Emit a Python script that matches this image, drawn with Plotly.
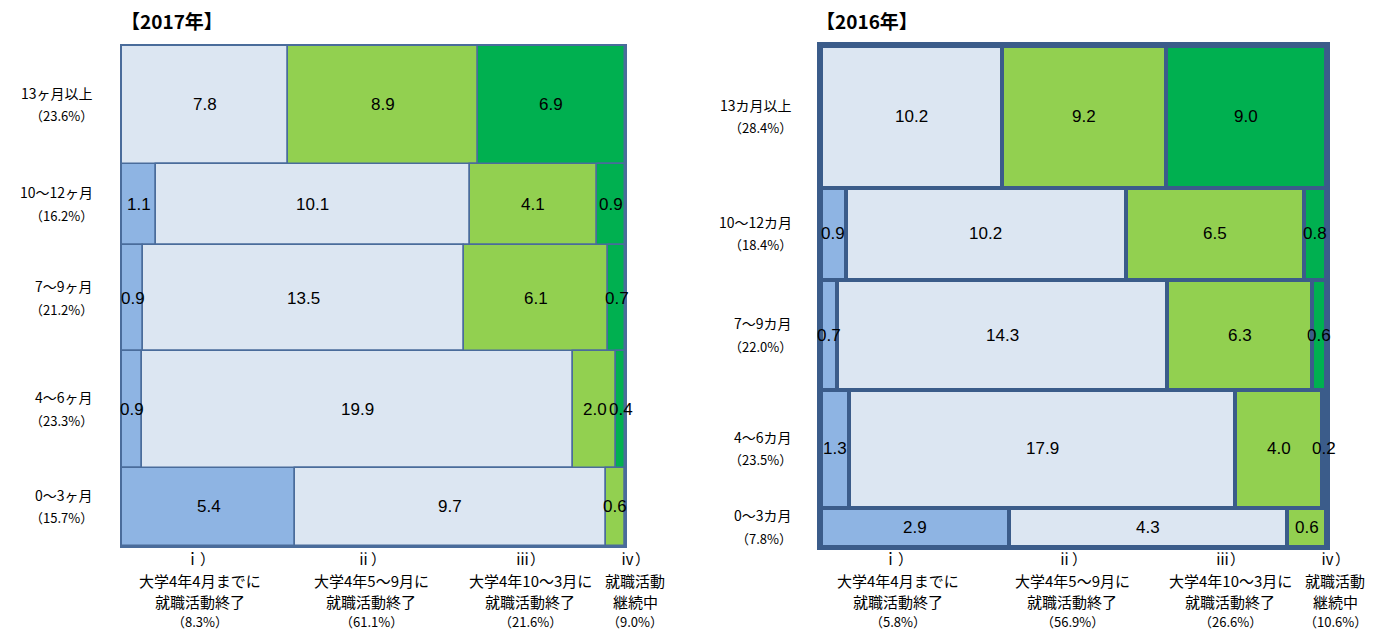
import plotly.graph_objects as go

# ---------------- data ----------------
rows_2017 = ["13ヶ月以上", "10～12ヶ月", "7～9ヶ月", "4～6ヶ月", "0～3ヶ月"]
row_pct_2017 = [23.6, 16.2, 21.2, 23.3, 15.7]
col_pct_2017 = ["8.3%", "61.1%", "21.6%", "9.0%"]
v2017_i = [0.0, 1.1, 0.9, 0.9, 5.4]
v2017_ii = [7.8, 10.1, 13.5, 19.9, 9.7]
v2017_iii = [8.9, 4.1, 6.1, 2.0, 0.6]
v2017_iv = [6.9, 0.9, 0.7, 0.4, 0.0]

rows_2016 = ["13カ月以上", "10～12カ月", "7～9カ月", "4～6カ月", "0～3カ月"]
row_pct_2016 = [28.4, 18.4, 22.0, 23.5, 7.8]
col_pct_2016 = ["5.8%", "56.9%", "26.6%", "10.6%"]
v2016_i = [0.0, 0.9, 0.7, 1.3, 2.9]
v2016_ii = [10.2, 10.2, 14.3, 17.9, 4.3]
v2016_iii = [9.2, 6.5, 6.3, 4.0, 0.6]
v2016_iv = [9.0, 0.8, 0.6, 0.2, 0.0]

col_labels = [["ｉ）", "大学4年4月までに", "就職活動終了"],
              ["ⅱ）", "大学4年5～9月に", "就職活動終了"],
              ["ⅲ）", "大学4年10～3月に", "就職活動終了"],
              ["ⅳ）", "就職活動", "継続中"]]
col_colors = ["#8EB4E3", "#DCE6F2", "#92D050", "#00B050"]
titles = ["【2017年】", "【2016年】"]

JP = "Noto Sans CJK JP"
NUM = "Liberation Sans, Arial, Noto Sans CJK JP"

fig = go.Figure()

panels = [
    dict(rows=rows_2017, rowpct=row_pct_2017, colpct=col_pct_2017,
         vals=[v2017_i, v2017_ii, v2017_iii, v2017_iv],
         xa="x", ya="y", dom=[122 / 1376, 625 / 1376], lc="#4A6C9B", lw=1.5,
         frame_w=2, title=titles[0], title_x=119,
         label_x=[200, 371, 530, 635]),
    dict(rows=rows_2016, rowpct=row_pct_2016, colpct=col_pct_2016,
         vals=[v2016_i, v2016_ii, v2016_iii, v2016_iv],
         xa="x2", ya="y2", dom=[821 / 1376, 1326 / 1376], lc="#3B5C8A", lw=4,
         frame_w=4, title=titles[1], title_x=814,
         label_x=[898, 1072, 1230, 1335]),
]

line_y = [558, 580, 601]   # pixel rows (from top) of the column-label lines
pct_y = 621

annotations = []
for p in panels:
    n = len(p["rows"])
    totals = [sum(p["vals"][k][r] for k in range(4)) for r in range(n)]
    centers = []
    acc = 0.0
    for h in p["rowpct"]:
        centers.append(acc + h / 2)
        acc += h
    cum = [0.0] * n
    for k in range(4):
        shares = [p["vals"][k][r] / totals[r] for r in range(n)]
        fig.add_trace(go.Bar(
            orientation="h", y=centers, x=shares, base=list(cum),
            width=p["rowpct"], xaxis=p["xa"], yaxis=p["ya"],
            marker=dict(color=col_colors[k], line=dict(color=p["lc"], width=p["lw"])),
            showlegend=False, hoverinfo="skip",
        ))
        for r in range(n):
            v = p["vals"][k][r]
            if v > 0:
                annotations.append(dict(
                    x=cum[r] + shares[r] / 2, y=centers[r], xref=p["xa"], yref=p["ya"],
                    text=f"{v:.1f}", showarrow=False,
                    font=dict(family=NUM, size=17, color="black")))
        cum = [cum[r] + shares[r] for r in range(n)]
    # row labels (name + percentage)
    for r in range(n):
        annotations.append(dict(
            x=p["dom"][0] - 27 / 1376, y=centers[r], xref="paper", yref=p["ya"],
            text=p["rows"][r], showarrow=False, xanchor="right", yshift=12,
            font=dict(family=JP, size=14, color="black")))
        annotations.append(dict(
            x=p["dom"][0] - 27 / 1376, y=centers[r], xref="paper", yref=p["ya"],
            text=f"（{p['rowpct'][r]:.1f}%）", showarrow=False, xanchor="right", yshift=-11,
            font=dict(family=JP, size=13, color="black")))
    # column labels, one annotation per line
    for k in range(4):
        for j, line in enumerate(col_labels[k]):
            annotations.append(dict(
                x=p["label_x"][k] / 1376, y=(630 - line_y[j]) / 630, xref="paper", yref="paper",
                text=line, showarrow=False, xanchor="center", yanchor="middle",
                font=dict(family=JP, size=15, color="black")))
        annotations.append(dict(
            x=p["label_x"][k] / 1376, y=(630 - pct_y) / 630, xref="paper", yref="paper",
            text=f"（{p['colpct'][k]}）", showarrow=False, xanchor="center", yanchor="middle",
            font=dict(family=JP, size=13, color="black")))
    # title
    annotations.append(dict(
        x=p["title_x"] / 1376, y=(630 - 20) / 630, xref="paper", yref="paper",
        text=f"<b>{p['title']}</b>", showarrow=False, xanchor="left", yanchor="middle",
        font=dict(family=JP, size=19, color="black")))

ax_common = dict(showgrid=False, zeroline=False, showticklabels=False, ticks="",
                 fixedrange=True)
fig.update_layout(
    width=1376, height=630, autosize=False,
    margin=dict(l=0, r=0, t=0, b=0),
    paper_bgcolor="white", plot_bgcolor="white",
    barmode="overlay", bargap=0,
    xaxis=dict(domain=panels[0]["dom"], range=[0, 1], anchor="y",
               showline=True, mirror=True, linecolor=panels[0]["lc"], linewidth=panels[0]["frame_w"], **ax_common),
    yaxis=dict(domain=[(630 - 546) / 630, (630 - 46) / 630], range=[100, 0], anchor="x",
               showline=True, mirror=True, linecolor=panels[0]["lc"], linewidth=panels[0]["frame_w"], **ax_common),
    xaxis2=dict(domain=panels[1]["dom"], range=[0, 1], anchor="y2",
                showline=True, mirror=True, linecolor=panels[1]["lc"], linewidth=panels[1]["frame_w"], **ax_common),
    yaxis2=dict(domain=[(630 - 546) / 630, (630 - 46) / 630], range=[100, 0], anchor="x2",
                showline=True, mirror=True, linecolor=panels[1]["lc"], linewidth=panels[1]["frame_w"], **ax_common),
    annotations=annotations,
)

fig.write_html("out.html")
